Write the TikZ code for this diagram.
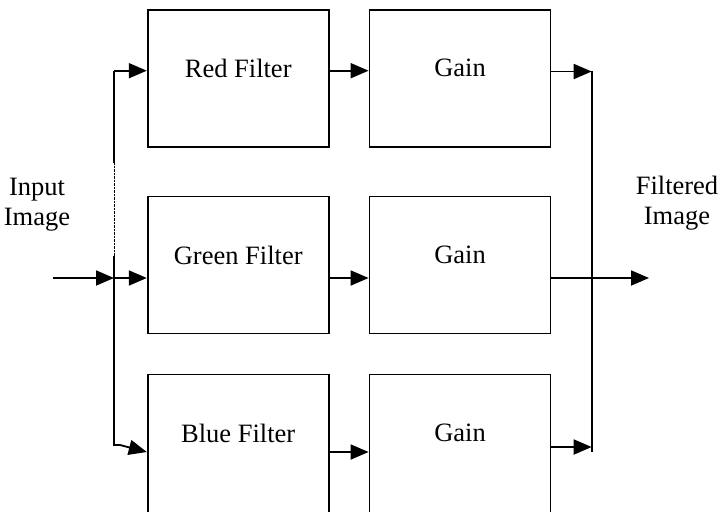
\documentclass[tikz,border=0pt]{standalone}
\usepackage{fontspec}
\setmainfont{Liberation Serif}
\usetikzlibrary{arrows.meta,calc}
\begin{document}
\begin{tikzpicture}[x=1pt,y=-1pt,
  blk/.style={draw,line width=1.8pt,minimum width=181pt,minimum height=137pt,inner sep=0pt},
  lbl/.style={font=\fontsize{26.5}{30}\selectfont,inner sep=0pt,align=center},
  wire/.style={line width=1.8pt},
  arr/.style={wire,-{Triangle[length=18pt,width=15pt]}}]
\useasboundingbox (0,0) rectangle (719,511);
\clip (0,0) rectangle (719,511);
% blocks
\node[blk] (rf) at (238.2,78.5) {};
\node[blk] (rg) at (460,78.5) {};
\node[blk] (gf) at (238.2,265) {};
\node[blk] (gg) at (460,265) {};
\node[blk,minimum height=150pt] (bf) at (238.2,449.5) {};
\node[blk,minimum height=150pt] (bg) at (460,449.5) {};
% block texts
\node[lbl] (rft) at (238.2,68) {Red Filter};
\node[lbl] (rgt) at (460,68) {Gain};
\node[lbl] (gft) at (238.2,255) {Green Filter};
\node[lbl] (ggt) at (460,255) {Gain};
\node[lbl] (bft) at (238.2,433) {Blue Filter};
\node[lbl] (bgt) at (460,433) {Gain};
% side labels
\node[lbl] (inl) at (37,205) {Input\\Image};
\node[lbl] (outl) at (677,203) {Filtered\\Image};
% left fan-out
\coordinate (in) at (53,278);
\coordinate (split) at (114,278);
\coordinate (rtop) at (114,70.7);
\coordinate (d1) at (114,163);
\coordinate (d2) at (114,256);
\coordinate (btm) at (114,445);
\coordinate (bk) at (120,445);
\coordinate (bin) at (147,452);
\draw[arr] (in) -- (split);
\draw[arr] (split) -- (gf.west |- split);
\draw[arr] (rtop) -- (rf.west |- rtop);
\draw[wire] (rtop) -- (d1);
\draw[thin,densely dotted] (d1) -- (d2);
\draw[wire] (d2) -- (btm) -- (bk);
\draw[arr] (bk) -- (bf.west |- bin);
% filter -> gain
\coordinate (ry) at (0,70.7);
\coordinate (gy) at (0,278);
\coordinate (by) at (0,452);
\draw[arr] (rf.east |- ry) -- (rg.west |- ry);
\draw[arr] (gf.east |- gy) -- (gg.west |- gy);
\draw[arr] (bf.east |- by) -- (bg.west |- by);
% right merge
\coordinate (mt) at (591.7,71.5);
\coordinate (mtop) at (591.7,70.7);
\coordinate (mb) at (591.7,452);
\coordinate (mb2) at (591.7,447);
\coordinate (out) at (649,278);
\draw[arr] (rg.east |- mt) -- (mt);
\draw[arr] (bg.east |- mb2) -- (mb2);
\draw[wire] (mtop) -- (mb);
\draw[arr] (gg.east |- out) -- (out);
\end{tikzpicture}
\end{document}
